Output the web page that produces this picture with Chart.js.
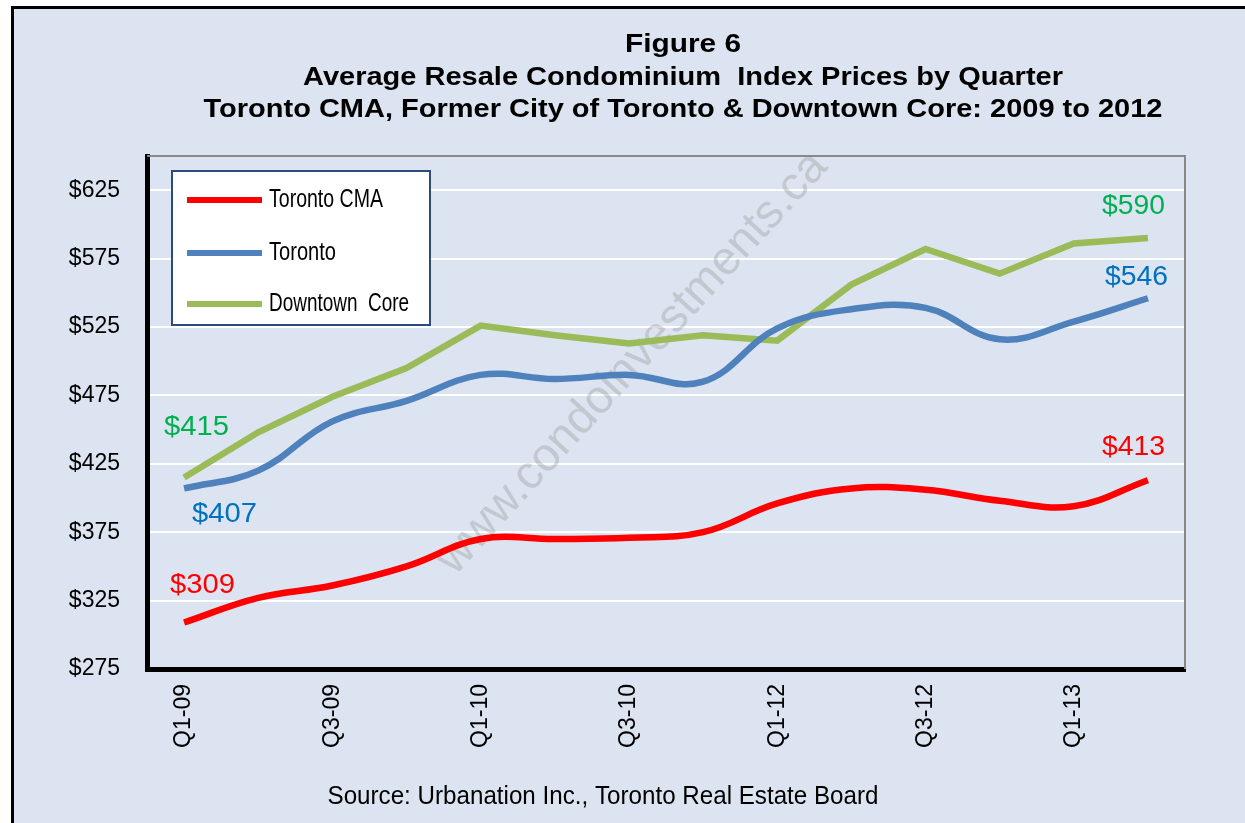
<!DOCTYPE html>
<html>
<head>
<title>Figure 6</title>
<style>
  body { margin: 0; background: #fff; overflow: hidden; }
  #frame { position: absolute; left: 11px; top: 6px; width: 1300px; height: 900px;
           background: #dbe4f0; border-top: 3px solid #000; border-left: 3px solid #000; }
  #chart { position: absolute; left: 0; top: 0; }
</style>
</head>
<body>
<div id="frame"></div>
<canvas id="chart" width="1245" height="823"></canvas>
<script src="https://cdn.jsdelivr.net/npm/chart.js"></script>
<script>

// quarters as labelled on the original chart (only every other one shown)
const quarters = ["Q1-09", "Q2-09", "Q3-09", "Q4-09", "Q1-10", "Q2-10", "Q3-10",
                  "Q4-10", "Q1-12", "Q2-12", "Q3-12", "Q4-12", "Q1-13", "Q2-13"]
const torontoCMA = [309, 327, 336, 350, 370, 370, 371, 375, 396, 407, 406, 398, 394, 413]
const toronto = [407, 420, 456, 471, 490, 487, 490, 485, 524, 538, 539, 516, 529, 546]
const downtownCore = [415, 448, 474, 495, 526, 519, 513, 519, 515, 556, 582, 564, 586, 590]
const yTicks = [275, 325, 375, 425, 475, 525, 575, 625]

const titleLines = ["Figure 6",
                    "Average Resale Condominium  Index Prices by Quarter",
                    "Toronto CMA, Former City of Toronto & Downtown Core: 2009 to 2012"]
const sourceText = "Source: Urbanation Inc., Toronto Real Estate Board"
const watermark = "www.condoinvestments.ca"

const FONT = "'Liberation Sans', Arial, sans-serif"

// text drawn squeezed to a given width, like the narrow look of the original
function drawText(ctx, text, x, y, font, color, align, width) {
    ctx.save()
    ctx.font = font
    ctx.fillStyle = color
    ctx.textBaseline = "middle"
    let w = ctx.measureText(text).width
    let sx = width ? width / w : 1
    ctx.translate(x, y)
    ctx.scale(sx, 1)
    ctx.textAlign = align
    ctx.fillText(text, 0, 0)
    ctx.restore()
}

const decor = {
    id: "decor",
    beforeDatasetsDraw(chart) {
        const ctx = chart.ctx
        const a = chart.chartArea
        // watermark
        ctx.save()
        ctx.translate(642, 372)
        ctx.rotate(-47.5 * Math.PI / 180)
        ctx.font = "47px " + FONT
        ctx.fillStyle = "rgba(150,150,150,0.35)"
        ctx.textAlign = "center"
        ctx.fillText(watermark, 0, 0)
        ctx.restore()
        // grey top and right border of the plot
        ctx.save()
        ctx.strokeStyle = "#888"
        ctx.lineWidth = 2
        ctx.beginPath()
        ctx.moveTo(a.left, a.top)
        ctx.lineTo(a.right, a.top)
        ctx.lineTo(a.right, a.bottom)
        ctx.stroke()
        ctx.restore()
    },
    afterDatasetsDraw(chart) {
        const ctx = chart.ctx
        // legend box
        ctx.save()
        ctx.fillStyle = "#fff"
        ctx.fillRect(172, 171, 258, 154)
        ctx.strokeStyle = "#2c4a7c"
        ctx.lineWidth = 2
        ctx.strokeRect(172, 171, 258, 154)
        ctx.restore()
        const rows = [200, 253, 304]
        chart.data.datasets.forEach((ds, i) => {
            ctx.save()
            ctx.strokeStyle = ds.borderColor
            ctx.lineWidth = 6
            ctx.beginPath()
            ctx.moveTo(187, rows[i])
            ctx.lineTo(262, rows[i])
            ctx.stroke()
            ctx.restore()
            drawText(ctx, ds.label, 269, rows[i], "25px " + FONT, "#000", "left", ds.labelWidth)
        })
        // value labels at the first and last quarter
        const offs = [[[-14, -37], [-16, -33]], [[8, 26], [-13, -21]], [[-20, -50], [-16, -32]]]
        chart.data.datasets.forEach((ds, i) => {
            const pts = chart.getDatasetMeta(i).data
            const n = ds.data.length - 1
            const first = pts[0], last = pts[n]
            drawText(ctx, "$" + ds.data[0], first.x + offs[i][0][0], first.y + offs[i][0][1],
                     "27px " + FONT, ds.labelColor, "left", 65)
            drawText(ctx, "$" + ds.data[n], last.x + offs[i][1][0] + 33, last.y + offs[i][1][1],
                     "27px " + FONT, ds.labelColor, "right", 63)
        })
    },
    afterDraw(chart) {
        const ctx = chart.ctx
        drawText(ctx, titleLines[0], 683, 45, "bold 26px " + FONT, "#000", "center", 116)
        drawText(ctx, titleLines[1], 683, 78, "bold 26px " + FONT, "#000", "center", 760)
        drawText(ctx, titleLines[2], 683, 110, "bold 26px " + FONT, "#000", "center", 959)
        drawText(ctx, sourceText, 603, 797, "26px " + FONT, "#000", "center", 551)
    }
}

new Chart(document.getElementById("chart"), {
    type: "line",
    data: {
        labels: quarters,
        datasets: [
            { label: "Toronto CMA", data: torontoCMA, borderColor: "#ff0000",
              labelColor: "#ff0000", labelWidth: 114, tension: 0.4 },
            { label: "Toronto", data: toronto, borderColor: "#4f81bd",
              labelColor: "#0070c0", labelWidth: 67, tension: 0.4 },
            { label: "Downtown  Core", data: downtownCore, borderColor: "#9bbb59",
              labelColor: "#00b050", labelWidth: 140, tension: 0 }
        ]
    },
    options: {
        responsive: false,
        animation: false,
        layout: { padding: { left: 0, right: 60, top: 156, bottom: 0 } },
        elements: {
            line: { borderWidth: 6.5, borderCapStyle: "butt" },
            point: { radius: 0, hoverRadius: 0 }
        },
        plugins: {
            legend: { display: false },
            title: { display: false },
            tooltip: { enabled: false }
        },
        scales: {
            x: {
                offset: true,
                grid: { display: false, drawTicks: false },
                border: { color: "#000", width: 5 },
                ticks: {
                    autoSkip: false,
                    minRotation: 90,
                    maxRotation: 90,
                    padding: 15,
                    color: "#000",
                    font: { family: FONT, size: 23 },
                    callback: (v, i) => i % 2 == 0 ? quarters[i] : ""
                },
                afterFit: s => { s.height = 154 }
            },
            y: {
                min: 275,
                max: 650,
                afterBuildTicks: s => { s.ticks = yTicks.map(v => ({ value: v })) },
                grid: { color: "#fff", lineWidth: 2, drawTicks: false },
                border: { color: "#000", width: 5 },
                ticks: {
                    padding: 27,
                    color: "#000",
                    font: { family: FONT, size: 23 },
                    callback: v => "$" + v
                },
                afterFit: s => { s.width = 147 }
            }
        }
    },
    plugins: [decor]
})
</script>
</body>
</html>
